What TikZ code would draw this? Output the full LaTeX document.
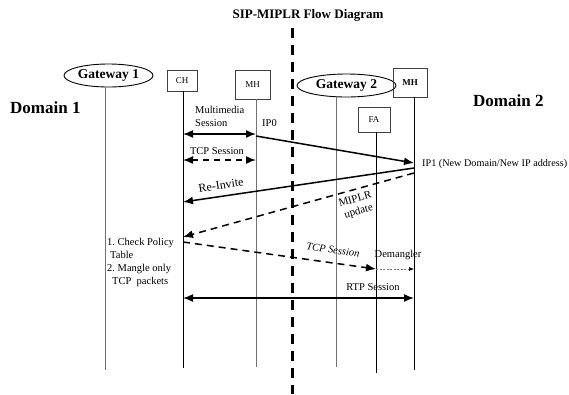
\documentclass[tikz,border=0pt]{standalone}
\usepackage{fontspec}
\setmainfont{Liberation Serif}
\usetikzlibrary{arrows.meta,shapes.geometric}
\begin{document}
\begin{tikzpicture}[x=1pt,y=-1pt,
  lbl/.style={inner sep=0pt, font=\fontsize{10.5}{13}\selectfont},
  gw/.style={ellipse, draw, line width=0.9pt, inner sep=0pt, font=\bfseries\fontsize{13.5}{15}\selectfont},
  boxn/.style={draw=black!75, line width=0.8pt, inner sep=0pt, font=\fontsize{9}{10}\selectfont},
  life/.style={line width=0.8pt, black},
  lifeg/.style={line width=0.8pt, black!55},
  msgarr/.style={line width=1.5pt, -{Latex[length=10pt,width=8pt]}},
  dmsgarr/.style={msgarr, dash pattern=on 7pt off 5pt},
  dblarr/.style={line width=1.5pt, {Latex[length=10pt,width=8pt]}-{Latex[length=10pt,width=8pt]}},
  ddblarr/.style={dblarr, dash pattern=on 6pt off 5pt},
  thinarr/.style={line width=0.6pt, black!55, dash pattern=on 2pt off 1.5pt, -{Latex[length=5pt,width=4pt,black]}},
  domlbl/.style={inner sep=0pt, font=\bfseries\fontsize{17}{19}\selectfont},
]
\useasboundingbox (0,0) rectangle (569,394);

% title and domain divider
\node[inner sep=0pt, font=\bfseries\fontsize{13}{15}\selectfont] (title) at (308,15) {SIP-MIPLR Flow Diagram};
\coordinate (divtop) at (292,28);
\coordinate (divbot) at (292,394);
\draw[line width=3pt, dash pattern=on 10pt off 7pt] (divtop) -- (divbot);

\node[domlbl, anchor=base west] (dom1) at (10,113.5) {Domain 1};
\node[domlbl, anchor=base west] (dom2) at (473,106) {Domain 2};

% entities
\node[gw, minimum width=89pt, minimum height=23pt] (gw1) at (108.5,75.5) {Gateway 1};
\node[boxn, minimum width=30pt, minimum height=21pt] (ch) at (182,80.5) {CH};
\node[boxn, minimum width=35pt, minimum height=29pt, text depth=-3pt] (mh1) at (252.5,84.5) {MH};
\node[gw, minimum width=99pt, minimum height=23pt] (gw2) at (346.5,85.5) {Gateway 2};
\node[boxn, minimum width=34pt, minimum height=29pt, font=\bfseries\fontsize{9}{10}\selectfont] (mh2) at (410,82.5) {MH};
\node[boxn, minimum width=32pt, minimum height=25pt, text depth=-3pt] (fa) at (374,119.5) {FA};

% lifeline ends
\coordinate (gw1b) at (105,370);
\coordinate (chb) at (183,368);
\coordinate (mh1b) at (256,367);
\coordinate (gw2b) at (336,367);
\coordinate (fab) at (376,373);
\coordinate (mh2b) at (414,370);

\draw[lifeg] (gw1.south -| gw1b) -- (gw1b);
\draw[life] (ch.south -| chb) -- (chb);
\draw[lifeg] (mh1.south -| mh1b) -- (mh1b);
\draw[lifeg] (gw2.south -| gw2b) -- (gw2b);
\draw[life] (fa.south -| fab) -- (fab);
\draw[life] (mh2.south -| mh2b) -- (mh2b);

% message end points on lifelines
\coordinate (chA) at (183,134);  \coordinate (mhA) at (256,134);
\coordinate (chB) at (183,160);  \coordinate (mhB) at (256,160);
\coordinate (mhC) at (256,136);  \coordinate (mh2C) at (414,163);
\coordinate (mh2D) at (414,168); \coordinate (chD) at (183,202);
\coordinate (mh2E) at (414,173); \coordinate (chE) at (183,237);
\coordinate (chF) at (183,242);  \coordinate (faF) at (376,269);
\coordinate (mh2G) at (414,269);
\coordinate (chH) at (183,298);  \coordinate (mh2H) at (414,298);

% messages
\draw[dblarr] (chA) -- (mhA);
\node[lbl, align=left, anchor=north west] (mmlbl) at (195,106) {Multimedia\\Session};
\node[lbl, anchor=base west] (ip0) at (262,126.5) {IP0};

\draw[ddblarr] (chB) -- (mhB);
\node[lbl, anchor=base] (tcp1) at (217,154.5) {TCP Session};

\draw[msgarr] (mhC) -- (mh2C);
\node[lbl, font=\fontsize{10.2}{13}\selectfont, anchor=base west] (ip1) at (422,166.5) {IP1 (New Domain/New IP address)};

\draw[msgarr] (mh2D) -- (chD);
\node[lbl, font=\fontsize{12}{13}\selectfont, rotate=8.4] (reinv) at (221,185) {Re-Invite};

\draw[dmsgarr] (mh2E) -- (chE);
\node[lbl, font=\fontsize{11}{12.5}\selectfont, align=center, rotate=16] (miplr) at (357,206) {MIPLR\\update};

\draw[dmsgarr] (chF) -- (faF);
\node[lbl, font=\itshape\fontsize{10.5}{13}\selectfont, rotate=-8] (tcp2) at (333,250) {TCP Session};

\draw[thinarr] (faF) -- (mh2G);
\node[lbl] (demang) at (398,255) {Demangler};

\draw[dblarr] (chH) -- (mh2H);
\node[lbl] (rtp) at (373,287) {RTP Session};

\node[lbl, align=left, anchor=north west] (policy) at (107,238.5) {1.~Check Policy\\\hspace*{3pt}Table\\2.~Mangle only\\\hspace*{5pt}TCP\ \ packets};
\end{tikzpicture}
\end{document}
